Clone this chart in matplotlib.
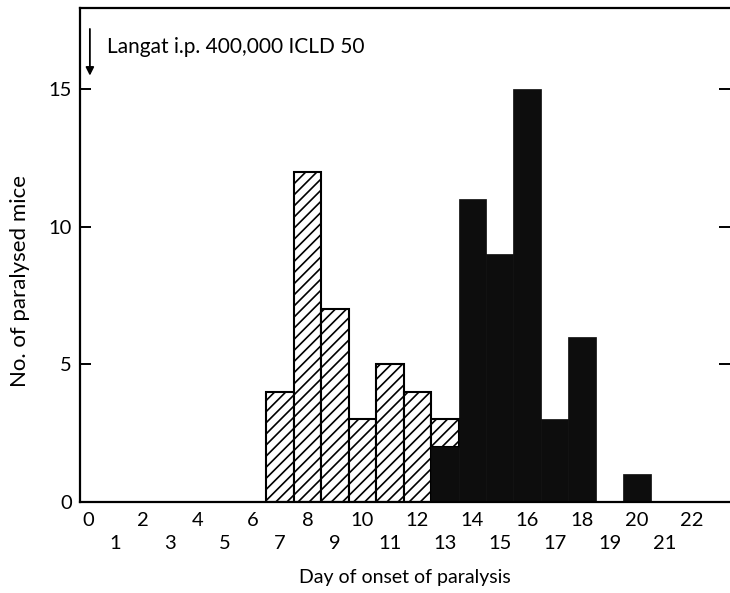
import matplotlib
matplotlib.use("Agg")
import matplotlib.pyplot as plt

plt.rcParams['font.family'] = ['Lato', 'DejaVu Sans']
plt.rcParams['hatch.linewidth'] = 1.2

# Data
hatched_days = [7, 8, 9, 10, 11, 12, 13]
hatched_counts = [4, 12, 7, 3, 5, 4, 1]
hatched_bottom = [0, 0, 0, 0, 0, 0, 2]
black_days = [13, 14, 15, 16, 17, 18, 19, 20]
black_counts = [2, 11, 9, 15, 3, 6, 0, 1]
even_ticks = list(range(0, 23, 2))
odd_ticks = list(range(1, 22, 2))
y_ticks = [0, 5, 10, 15]
annotation = "Langat i.p. 400,000 ICLD 50"

fig = plt.figure(figsize=(7.3, 5.93), dpi=100)
ax = fig.add_axes([80/730, 1-502/593, 1-80/730, (502-8)/593])

ax.bar(hatched_days, hatched_counts, bottom=hatched_bottom, width=1.0,
       color='white', edgecolor='black', linewidth=1.5, hatch='///')
ax.bar(black_days, black_counts, width=1.0, color='#0d0d0d',
       edgecolor='#0d0d0d', linewidth=0.5)

ax.set_xlim(-0.29, 23.39)
ax.set_ylim(0, 17.96)

for s in ['left', 'bottom', 'top']:
    ax.spines[s].set_linewidth(1.6)
ax.spines['right'].set_visible(False)

ax.set_xticks(even_ticks)
ax.set_xticklabels([str(t) for t in even_ticks])
ax.set_xticks(odd_ticks, minor=True)
ax.set_xticklabels([str(t) for t in odd_ticks], minor=True)
ax.tick_params(axis='x', which='major', length=0, pad=7.5, labelsize=14.5)
ax.tick_params(axis='x', which='minor', length=0, pad=23.5, labelsize=14.5)

ax.set_yticks(y_ticks)
ax.set_yticklabels([str(t) for t in y_ticks])
ax.tick_params(axis='y', which='major', direction='in', length=8, width=1.4,
               pad=6, labelsize=14.5, right=True)

ax.set_xlabel("Day of onset of paralysis", fontsize=14)
ax.xaxis.set_label_coords(0.5, -(578 - 502) / 494, transform=ax.transAxes)
ax.xaxis.label.set_va('center')
ax.set_ylabel("No. of paralysed mice", fontsize=16)
ax.yaxis.set_label_coords((20 - 80) / 650, (502 - 281) / 494)
ax.yaxis.label.set_va('center')

ax.annotate("", xy=(0.07, 15.4), xytext=(0.07, 17.3),
            arrowprops=dict(arrowstyle='-|>', color='black', lw=1.3,
                            mutation_scale=12))
ax.text(0.69, 16.55, annotation, fontsize=15, va='center', ha='left')

fig.savefig("out.png", dpi=100)
